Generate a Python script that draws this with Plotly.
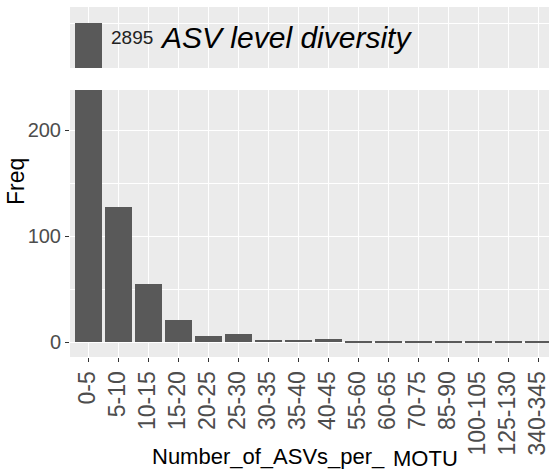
import plotly.graph_objects as go

categories = ["0-5", "5-10", "10-15", "15-20", "20-25", "25-30", "30-35", "35-40",
              "40-45", "55-60", "60-65", "70-75", "85-90", "100-105", "125-130", "340-345"]
freq = [2895, 128, 55, 21, 6, 8, 2, 2, 3, 1, 1, 1, 1, 1, 1, 1]
y_ticks = [0, 100, 200]
top_label_value = "2895"
top_label_text = "ASV level diversity"

W, H = 549, 471
ML, MR, MT, MB = 70, 0, 7, 114
PW = W - ML - MR
PH = H - MT - MB

def px_x(x):
    return (x - ML) / PW

def px_y(y):
    return (H - MB - y) / PH

BAR = "#595959"
FONT = "Arial, Liberation Sans, sans-serif"

fig = go.Figure()
fig.add_trace(go.Bar(x=categories, y=freq, marker=dict(color=BAR, line=dict(width=0)),
                     width=0.9, xaxis="x", yaxis="y", showlegend=False))
fig.add_trace(go.Bar(x=categories, y=freq, marker=dict(color=BAR, line=dict(width=0)),
                     width=0.9, xaxis="x2", yaxis="y2", showlegend=False))

xr = [-0.6, -0.6 + PW / 30.0]

fig.update_layout(
    width=W, height=H,
    margin=dict(l=ML, r=MR, t=MT, b=MB, pad=0, autoexpand=False),
    paper_bgcolor="white", plot_bgcolor="#EBEBEB",
    font=dict(family=FONT),
    bargap=0,
    xaxis=dict(domain=[0, 1], range=xr, type="category", anchor="y", automargin=False,
               categoryorder="array", categoryarray=categories,
               showgrid=True, gridcolor="white", gridwidth=1.1,
               ticks="outside", ticklen=4, tickcolor="#333333", tickwidth=1,
               tickangle=-90, tickfont=dict(size=23, color="#4D4D4D", family=FONT),
               showline=False, zeroline=False),
    yaxis=dict(domain=[0, px_y(90)], range=[-14, 238], anchor="x", automargin=False,
               tickvals=y_ticks, showgrid=True, gridcolor="white", gridwidth=1.1,
               minor=dict(tickvals=[50, 150], showgrid=True, gridcolor="white", gridwidth=0.5, ticks=""),
               ticks="outside", ticklen=4, tickcolor="#333333", tickwidth=1,
               tickfont=dict(size=20, color="#4D4D4D", family=FONT),
               showline=False, zeroline=False),
    xaxis2=dict(domain=[0, 1], range=xr, type="category", anchor="y2", automargin=False,
                categoryorder="array", categoryarray=categories,
                showgrid=True, gridcolor="white", gridwidth=1.1,
                showticklabels=False, ticks="", showline=False, zeroline=False),
    yaxis2=dict(domain=[px_y(68), 1], range=[2800, 2930], anchor="x2", automargin=False,
                tickvals=[2895], showgrid=True, gridcolor="white", gridwidth=1.1,
                showticklabels=False, ticks="", showline=False, zeroline=False),
    annotations=[
        dict(text=top_label_value, xref="paper", yref="paper", x=px_x(109), y=px_y(38),
             xanchor="left", yanchor="middle", showarrow=False,
             font=dict(size=19, color="#222222", family=FONT)),
        dict(text="<i>" + top_label_text + "</i>", xref="paper", yref="paper", x=px_x(158), y=px_y(38),
             xanchor="left", yanchor="middle", showarrow=False,
             font=dict(size=30, color="black", family=FONT)),
        dict(text="Freq", xref="paper", yref="paper", x=px_x(16), y=px_y(182),
             xanchor="center", yanchor="middle", textangle=-90, showarrow=False,
             font=dict(size=23, color="black", family=FONT)),
        dict(text="Number_of_ASVs_per_", xref="paper", yref="paper", x=px_x(150), y=px_y(457),
             xanchor="left", yanchor="middle", showarrow=False,
             font=dict(size=22, color="black", family=FONT)),
        dict(text="MOTU", xref="paper", yref="paper", x=px_x(391), y=px_y(458.5),
             xanchor="left", yanchor="middle", showarrow=False,
             font=dict(size=22, color="black", family=FONT)),
    ],
)

fig.write_html("out.html", config={"displayModeBar": False},
               post_script="document.body.style.margin='0';document.body.style.overflow='hidden';")
